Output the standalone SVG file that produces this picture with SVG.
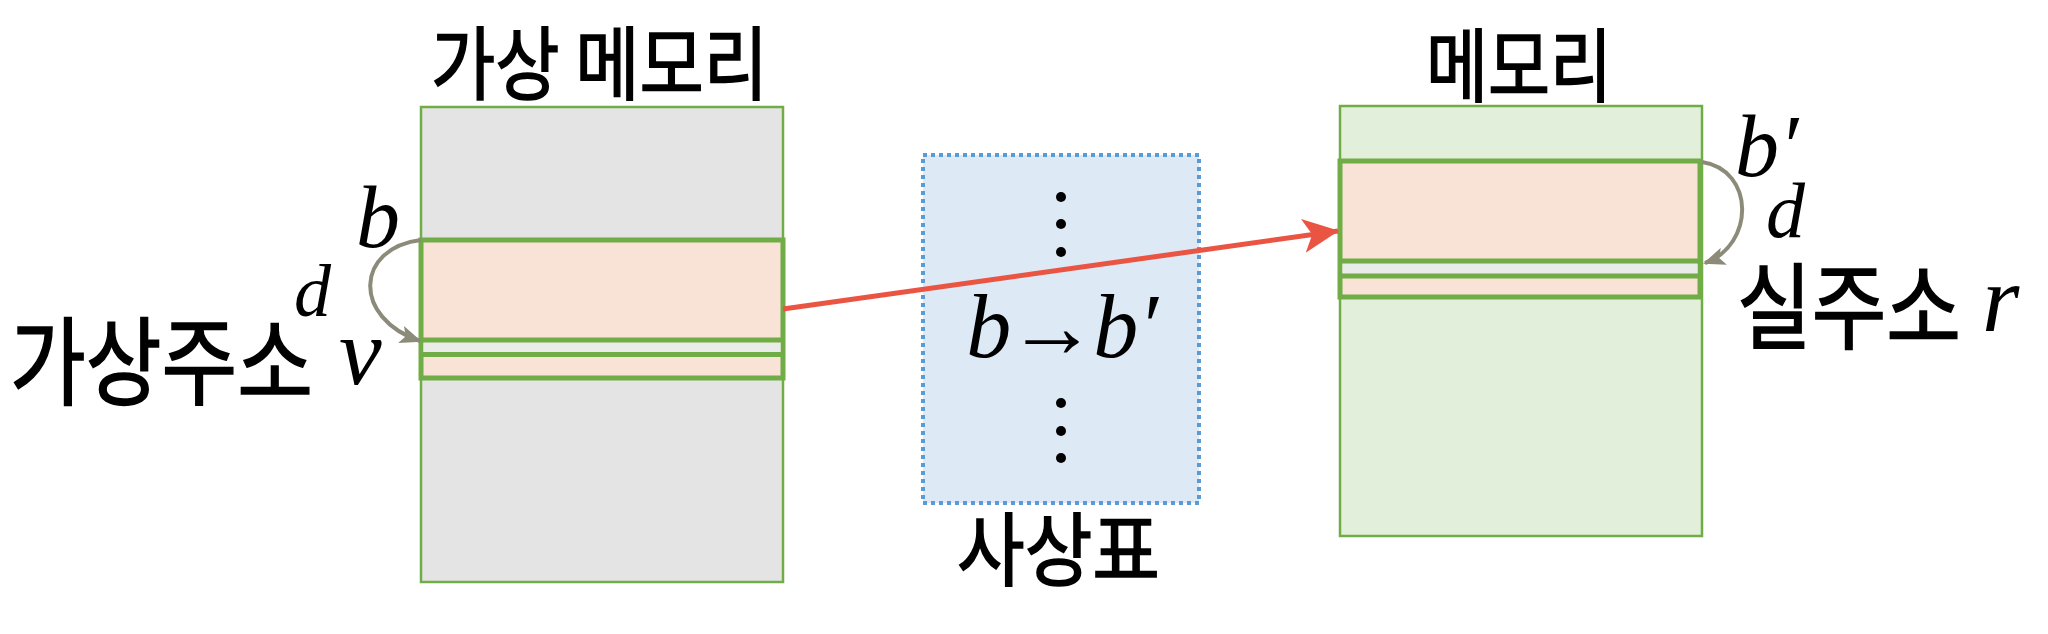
<svg xmlns="http://www.w3.org/2000/svg" width="2048" height="634" viewBox="0 0 2048 634">
<style>
.kr{font-family:"Noto Sans CJK KR","Noto Sans",sans-serif;font-weight:400;fill:#000;stroke:#000;stroke-width:1.6;}
.m{font-family:"Liberation Serif","DejaVu Serif",serif;font-style:italic;fill:#000;}
.up{font-family:"Liberation Serif","DejaVu Serif",serif;font-style:normal;}
.mem{stroke:#70ad47;stroke-width:2.5;}
.band{fill:#f8e3d6;stroke:#70ad47;stroke-width:5;}
.strip{fill:#eaecea;}
.sep{stroke:#70ad47;stroke-width:5;fill:none;}
.curve{fill:none;stroke:#8c8a78;stroke-width:4;}
</style>
<defs>
<marker id="gh" viewBox="0 0 22 18" refX="20" refY="9" markerWidth="22" markerHeight="18" markerUnits="userSpaceOnUse" orient="auto">
<path d="M0,0 L22,9 L0,18 L5,9 Z" fill="#8c8a78"/>
</marker>
<marker id="rh" viewBox="0 0 36 34" refX="35" refY="17" markerWidth="36" markerHeight="34" markerUnits="userSpaceOnUse" orient="auto">
<path d="M0,0 L36,17 L0,34 L9,17 Z" fill="#ea5443"/>
</marker>
</defs>
<rect width="2048" height="634" fill="#fff"/>

<g id="virtual-memory">
<rect class="mem" x="421" y="107" width="362" height="475" fill="#e3e4e3"/>
<rect class="band" x="421" y="240" width="362" height="138"/>
<rect class="strip" x="423.5" y="342.5" width="357" height="9.5"/>
<line class="sep" x1="421" y1="340" x2="783" y2="340"/>
<line class="sep" x1="421" y1="354.5" x2="783" y2="354.5"/>
<text class="kr" x="431" y="93" font-size="80" textLength="337" lengthAdjust="spacingAndGlyphs">가상 메모리</text>
</g>

<g id="virtual-address">
<text class="kr" x="10" y="397" font-size="96" textLength="303" lengthAdjust="spacingAndGlyphs">가상주소</text>
<text class="m" x="356" y="247" font-size="88">b</text>
<text class="m" x="294" y="316" font-size="74">d</text>
<text class="m" x="339" y="384" font-size="96">v</text>
</g>

<g id="mapping-table">
<rect x="923" y="155" width="276" height="348" fill="#dde9f5" stroke="#5b9bd5" stroke-width="4" stroke-dasharray="4 4"/>
<circle cx="1061" cy="197" r="5"/>
<circle cx="1061" cy="224" r="5"/>
<circle cx="1061" cy="252" r="5"/>
<circle cx="1061" cy="403" r="5"/>
<circle cx="1061" cy="431" r="5"/>
<circle cx="1061" cy="458" r="5"/>
<text class="m" x="1062" y="357" font-size="90" text-anchor="middle">b<tspan class="up" dx="-4">→</tspan><tspan dx="-4">b′</tspan></text>
<text class="kr" x="957" y="579" font-size="80" textLength="203" lengthAdjust="spacingAndGlyphs">사상표</text>
</g>

<g id="physical-memory">
<rect class="mem" x="1340" y="106" width="362" height="430" fill="#e2efda"/>
<rect class="band" x="1340" y="161" width="360" height="136"/>
<rect class="strip" x="1342.5" y="263.5" width="355" height="10"/>
<line class="sep" x1="1340" y1="261" x2="1700" y2="261"/>
<line class="sep" x1="1340" y1="276" x2="1700" y2="276"/>
<text class="kr" x="1426" y="95" font-size="80" textLength="186" lengthAdjust="spacingAndGlyphs">메모리</text>
</g>

<g id="physical-address">
<text class="m" x="1735" y="176" font-size="88">b′</text>
<text class="m" x="1766" y="237" font-size="78">d</text>
<text class="kr" x="1737" y="342" font-size="94" textLength="224" lengthAdjust="spacingAndGlyphs">실주소</text>
<text class="m" x="1982" y="331" font-size="96">r</text>
</g>

<g id="connectors">
<path class="curve" d="M421,240 C355,248 352,318 420,341" marker-end="url(#gh)"/>
<path class="curve" d="M1702,162 C1755,170 1755,245 1705,263" marker-end="url(#gh)"/>
<line x1="783" y1="309" x2="1338" y2="231" stroke="#ea5443" stroke-width="5" marker-end="url(#rh)"/>
</g>
</svg>
